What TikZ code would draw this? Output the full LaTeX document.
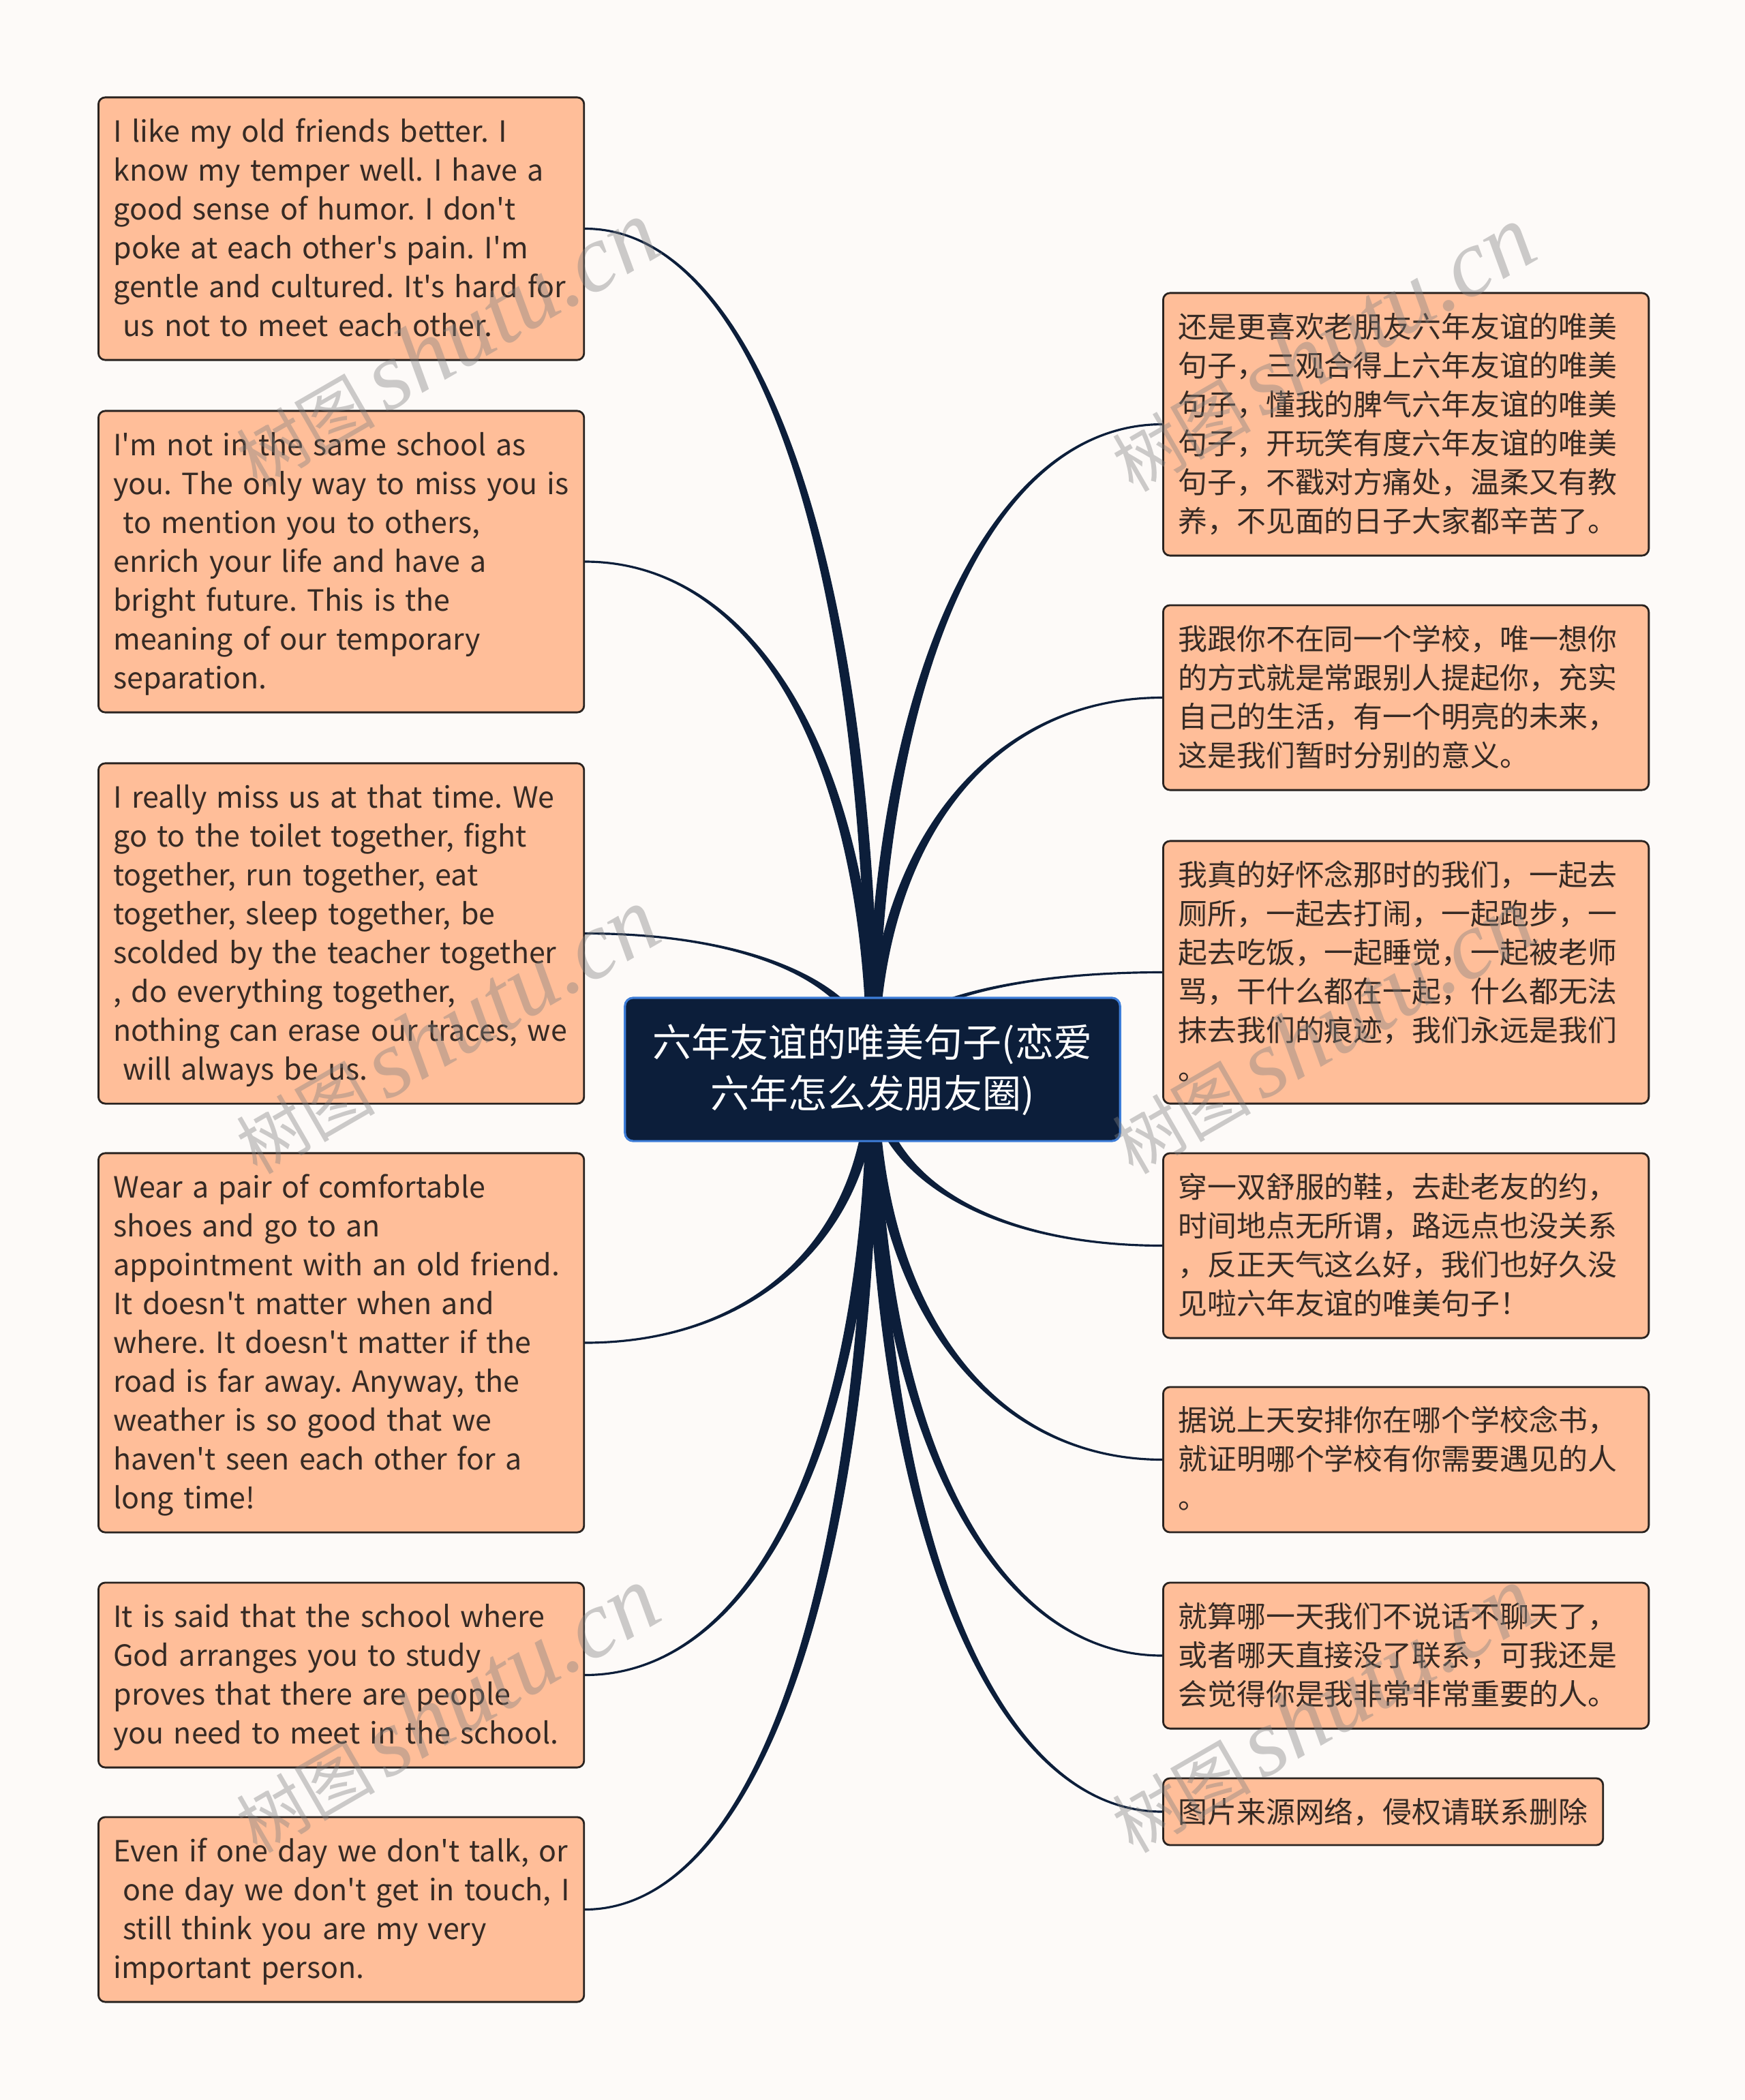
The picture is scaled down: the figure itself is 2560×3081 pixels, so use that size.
\documentclass[tikz,border=0pt]{standalone}
\usepackage{fontspec}
\setmainfont{Noto Sans CJK SC}
\newfontfamily\txt{Noto Sans CJK SC}
\newfontfamily\wmfont{Liberation Serif}
\usetikzlibrary{calc, backgrounds}
\definecolor{paper}{HTML}{FDFAF8}
\definecolor{peach}{HTML}{FFBE99}
\definecolor{ink}{HTML}{362A24}
\definecolor{navy}{HTML}{0C1E3A}
\definecolor{hubline}{HTML}{3D7DD8}
\definecolor{boxline}{HTML}{2A2320}

% fixed lines, no rewrapping
\newcommand\lines[1]{\raisebox{-0.04cm}[\height][\depth]{\begin{tabular}{@{}l@{}}#1\end{tabular}}}

% tapered curve from the centre of the hub to a leaf anchor
\newcommand\branch[1]{%
  \coordinate (k) at (hub.center |- #1);
  \filldraw[branchline] ($(hub.center)+(-7,0)$)
    .. controls ($(hub.center)!0.6!(k)+(-7,0)$) and ($(#1)!0.6!(k)$) .. (#1)
    .. controls ($(#1)!0.6!(k)$) and ($(hub.center)!0.6!(k)+(7,0)$) .. ($(hub.center)+(7,0)$) -- cycle;
}

\begin{document}
\begin{tikzpicture}[x=0.01cm, y=-0.01cm,
  leaf/.style={draw=boxline, fill=peach, line width=0.8pt, rounded corners=0.1cm,
    text=ink, align=left, anchor=west, inner xsep=0.22cm, inner ysep=0pt,
    text width=6.68cm, font=\txt\frenchspacing\fontsize{12.2pt}{16.2pt}\selectfont},
  hubbox/.style={draw=hubline, fill=navy, line width=0.9pt, rounded corners=0.12cm,
    text=white, align=center, inner sep=0pt, minimum width=7.26cm, minimum height=2.1cm,
    font=\txt\fontsize{16.2pt}{21.3pt}\selectfont},
  branchline/.style={fill=navy, draw=navy, line width=0.9pt, line join=round},
  wmark/.style={rotate=30, text=gray, opacity=0.4, inner sep=0pt}]
  \useasboundingbox (0,0) rectangle (2560,3081);

  \node[hubbox] (hub) at (1280,1569) {六年友谊的唯美句子(恋爱\\六年怎么发朋友圈)};

  % left column
  \node[leaf, minimum height=3.85cm] (L1) at (143,335.5) {\lines{I like my old friends better. I\\know my temper well. I have a\\good sense of humor. I don't\\poke at each other's pain. I'm\\gentle and cultured. It's hard for\\\ us not to meet each other.}};
  \node[leaf, minimum height=4.42cm] (L2) at (143,824) {\lines{I'm not in the same school as\\you. The only way to miss you is\\\ to mention you to others,\\enrich your life and have a\\bright future. This is the\\meaning of our temporary\\separation.}};
  \node[leaf, minimum height=4.99cm] (L3) at (143,1369.5) {\lines{I really miss us at that time. We\\go to the toilet together, fight\\together, run together, eat\\together, sleep together, be\\scolded by the teacher together\\, do everything together,\\nothing can erase our traces, we\\\ will always be us.}};
  \node[leaf, minimum height=5.56cm] (L4) at (143,1970) {\lines{Wear a pair of comfortable\\shoes and go to an\\appointment with an old friend.\\It doesn't matter when and\\where. It doesn't matter if the\\road is far away. Anyway, the\\weather is so good that we\\haven't seen each other for a\\long time!}};
  \node[leaf, minimum height=2.71cm] (L5) at (143,2457.5) {\lines{It is said that the school where\\God arranges you to study\\proves that there are people\\you need to meet in the school.}};
  \node[leaf, minimum height=2.71cm] (L6) at (143,2801.5) {\lines{Even if one day we don't talk, or\\\ one day we don't get in touch, I\\\ still think you are my very\\important person.}};

  % right column
  \node[leaf, minimum height=3.85cm] (R1) at (1705,622.5) {\lines{还是更喜欢老朋友六年友谊的唯美\\句子，三观合得上六年友谊的唯美\\句子，懂我的脾气六年友谊的唯美\\句子，开玩笑有度六年友谊的唯美\\句子，不戳对方痛处，温柔又有教\\养，不见面的日子大家都辛苦了。}};
  \node[leaf, minimum height=2.71cm] (R2) at (1705,1023.5) {\lines{我跟你不在同一个学校，唯一想你\\的方式就是常跟别人提起你，充实\\自己的生活，有一个明亮的未来，\\这是我们暂时分别的意义。}};
  \node[leaf, minimum height=3.85cm] (R3) at (1705,1426.5) {\lines{我真的好怀念那时的我们，一起去\\厕所，一起去打闹，一起跑步，一\\起去吃饭，一起睡觉，一起被老师\\骂，干什么都在一起，什么都无法\\抹去我们的痕迹，我们永远是我们\\。}};
  \node[leaf, minimum height=2.71cm] (R4) at (1705,1827.5) {\lines{穿一双舒服的鞋，去赴老友的约，\\时间地点无所谓，路远点也没关系\\，反正天气这么好，我们也好久没\\见啦六年友谊的唯美句子！}};
  \node[leaf, minimum height=2.13cm] (R5) at (1705,2141.5) {\lines{据说上天安排你在哪个学校念书，\\就证明哪个学校有你需要遇见的人\\。}};
  \node[leaf, minimum height=2.14cm] (R6) at (1705,2429) {\lines{就算哪一天我们不说话不聊天了，\\或者哪天直接没了联系，可我还是\\会觉得你是我非常非常重要的人。}};
  \node[leaf, minimum height=0.98cm, text width=6.01cm] (R7) at (1705,2658) {图片来源网络，侵权请联系删除};

  \begin{scope}[on background layer]
    \fill[paper] (0,0) rectangle (2560,3081);
    \foreach \leaf in {L1,L2,L3,L4,L5,L6} {\branch{\leaf.east}}
    \foreach \leaf in {R1,R2,R3,R4,R5,R6,R7} {\branch{\leaf.west}}
  \end{scope}

  % watermarks
  \foreach \wx/\wy [count=\i] in {655/505, 655/1513, 655/2509, 1940/512, 1940/1513, 1940/2509}
    \node[wmark] (wm\i) at (\wx,\wy) {{\txt\fontsize{29pt}{29pt}\selectfont 树图}\ \ {\wmfont\itshape\fontsize{40pt}{40pt}\selectfont shutu.cn}};
\end{tikzpicture}
\end{document}
